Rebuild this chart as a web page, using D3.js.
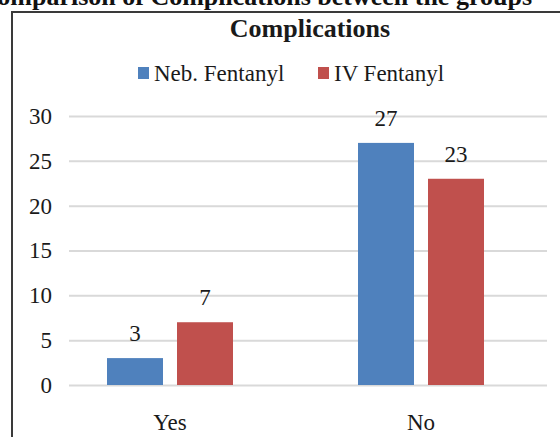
<!DOCTYPE html>
<html>
<head>
<meta charset="utf-8">
<script src="https://cdn.jsdelivr.net/npm/d3@7"></script>
<style>
  body { margin: 0; background: #fff; }
  svg { display: block; font-family: "Liberation Serif", "Times New Roman", serif; }
</style>
</head>
<body>
<div id="chart"></div>
<script>
var categories = ["Yes", "No"];
var seriesNames = ["Neb. Fentanyl", "IV Fentanyl"];
var nebValues = [3, 27];
var ivValues = [7, 23];
var yTicks = [0, 5, 10, 15, 20, 25, 30];
var colors = ["#4f81bd", "#c0504d"];

var width = 560, height = 437;

var svg = d3.select("#chart").append("svg")
    .attr("width", width)
    .attr("height", height);

// header text cut off at the top of the picture
svg.append("text")
    .attr("x", 532)
    .attr("y", 5)
    .attr("text-anchor", "end")
    .style("font-size", "26px")
    .style("font-weight", "bold")
    .style("fill", "#111")
    .text("Comparison of Complications between the groups");

// chart frame
svg.append("rect")
    .attr("x", 12).attr("y", 12)
    .attr("width", 620).attr("height", 500)
    .style("fill", "none")
    .style("stroke", "#3a3a3a")
    .style("stroke-width", 2);

svg.append("text")
    .attr("x", 310)
    .attr("y", 37)
    .attr("text-anchor", "middle")
    .style("font-size", "26px")
    .style("font-weight", "bold")
    .style("fill", "#1a1a1a")
    .text("Complications");

var y = d3.scaleLinear().domain([0, 30]).range([385, 116]);
var x0 = d3.scaleBand().domain(categories).range([44.5, 546.5]);
var x1 = d3.scaleBand().domain(seriesNames).range([62.5, 188.5]).paddingInner(0.2);

// gridlines + y labels
var yAxis = svg.append("g")
    .attr("transform", "translate(69,0)")
    .call(d3.axisLeft(y).tickValues(yTicks).tickSize(-478).tickPadding(17));
yAxis.select(".domain").remove();
yAxis.selectAll("line").style("stroke", "#d9d9d9").style("stroke-width", 2);
yAxis.selectAll("text")
    .style("font-family", "Liberation Serif")
    .style("font-size", "23px")
    .style("fill", "#1a1a1a");

var xAxis = svg.append("g")
    .attr("transform", "translate(0,385)")
    .call(d3.axisBottom(x0).tickSize(0).tickPadding(29));
xAxis.select(".domain").remove();
xAxis.selectAll("text")
    .style("font-family", "Liberation Serif")
    .style("font-size", "23px")
    .style("fill", "#1a1a1a");

var rows = categories.map(function(c, i) {
    return { cat: c, values: [nebValues[i], ivValues[i]] };
});

var groups = svg.append("g").selectAll("g")
    .data(rows)
    .enter().append("g")
    .attr("transform", function(d) { return "translate(" + x0(d.cat) + ",0)"; });

groups.selectAll("rect")
    .data(function(d) { return d.values.map(function(v, j) { return { name: seriesNames[j], value: v, j: j }; }); })
    .enter().append("rect")
    .attr("x", function(d) { return x1(d.name); })
    .attr("y", function(d) { return y(d.value); })
    .attr("width", x1.bandwidth())
    .attr("height", function(d) { return y(0) - y(d.value); })
    .style("fill", function(d) { return colors[d.j]; });

groups.selectAll("text")
    .data(function(d) { return d.values.map(function(v, j) { return { name: seriesNames[j], value: v }; }); })
    .enter().append("text")
    .attr("x", function(d) { return x1(d.name) + x1.bandwidth() / 2; })
    .attr("y", function(d) { return y(d.value) - 17; })
    .attr("text-anchor", "middle")
    .style("font-size", "23px")
    .style("fill", "#1a1a1a")
    .text(function(d) { return d.value; });

// legend
var legendX = [138, 318];
var legend = svg.append("g").selectAll("g")
    .data(seriesNames)
    .enter().append("g")
    .attr("transform", function(d, i) { return "translate(" + legendX[i] + ",0)"; });
legend.append("rect")
    .attr("x", 0).attr("y", 67)
    .attr("width", 11).attr("height", 12)
    .style("fill", function(d, i) { return colors[i]; });
legend.append("text")
    .attr("x", 16).attr("y", 81)
    .style("font-size", "23px")
    .style("fill", "#1a1a1a")
    .text(function(d) { return d; });
</script>
</body>
</html>
